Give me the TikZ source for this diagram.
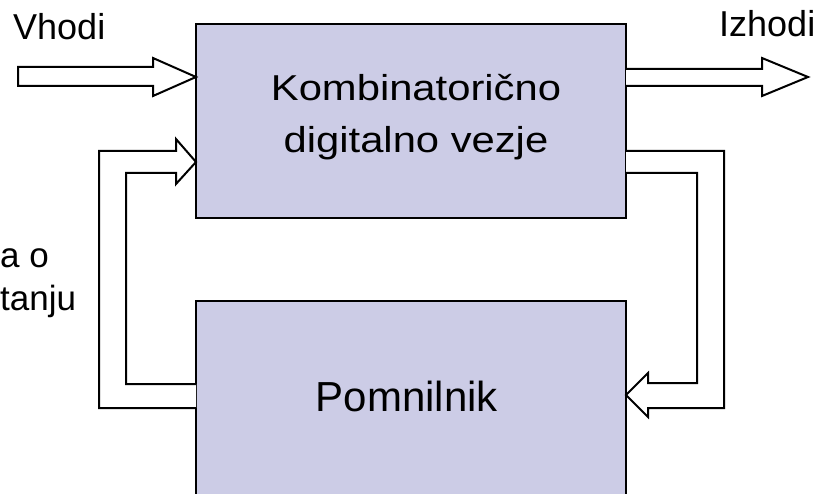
\documentclass[tikz,border=0pt]{standalone}
\usepackage{fontspec}
\setmainfont{Liberation Sans}
\definecolor{boxfill}{RGB}{204,204,230}
\begin{document}
\begin{tikzpicture}[x=1pt,y=-1pt,
  blk/.style={draw=black, line width=2pt, fill=boxfill, inner sep=0pt, outer sep=0pt, anchor=north west},
  arr/.style={draw=black, line width=2pt, fill=white, line join=miter},
  lbl/.style={inner sep=0pt, font=\fontsize{36}{42}\selectfont},
  sml/.style={inner sep=0pt, font=\fontsize{35}{42}\selectfont},
  big/.style={inner sep=0pt, font=\fontsize{42}{52}\selectfont},
  bigs/.style={inner sep=0pt, font=\fontsize{36}{52}\selectfont, xscale=1.16, transform shape}]
\useasboundingbox (0,0) rectangle (819,494);
\clip (0,0) rectangle (819,494);
% boxes
\node[blk, minimum width=430pt, minimum height=194pt] (comb) at (196,24) {};
\node[blk, minimum width=430pt, minimum height=230pt] (mem) at (196,301) {};
% box texts
\node[bigs, anchor=base] (combA) at (416,101) {Kombinatorično};
\node[bigs, anchor=base] (combB) at (416,153) {digitalno vezje};
\node[big, anchor=base] (memt) at (407,411) {Pomnilnik};
% labels
\node[lbl, anchor=base west] (in) at (13,40) {Vhodi};
\node[lbl, anchor=base west] (out) at (719,37) {Izhodi};
\node[sml, anchor=base west] (st1) at (0,268) {a o};
\node[sml, anchor=base west] (st2) at (0,310) {tanju};
% input arrow
\draw[arr] (18,67) -- (153,67) -- (153,58) -- (196,77) -- (153,96) -- (153,86) -- (18,86) -- cycle;
% output arrow
\draw[arr] (626,69) -- (762,69) -- (762,58) -- (808,77) -- (762,96) -- (762,86) -- (626,86);
% right feedback (comb -> mem)
\draw[arr] (626,151) -- (724,151) -- (724,408) -- (648,408) -- (648,417) -- (626,395) -- (648,373) -- (648,383) -- (697,383) -- (697,173) -- (626,173);
% left feedback (mem -> comb)
\draw[arr] (196,408) -- (99,408) -- (99,151) -- (176,151) -- (176,139) -- (196,162) -- (176,184) -- (176,173) -- (126,173) -- (126,384) -- (196,384);
\end{tikzpicture}
\end{document}
